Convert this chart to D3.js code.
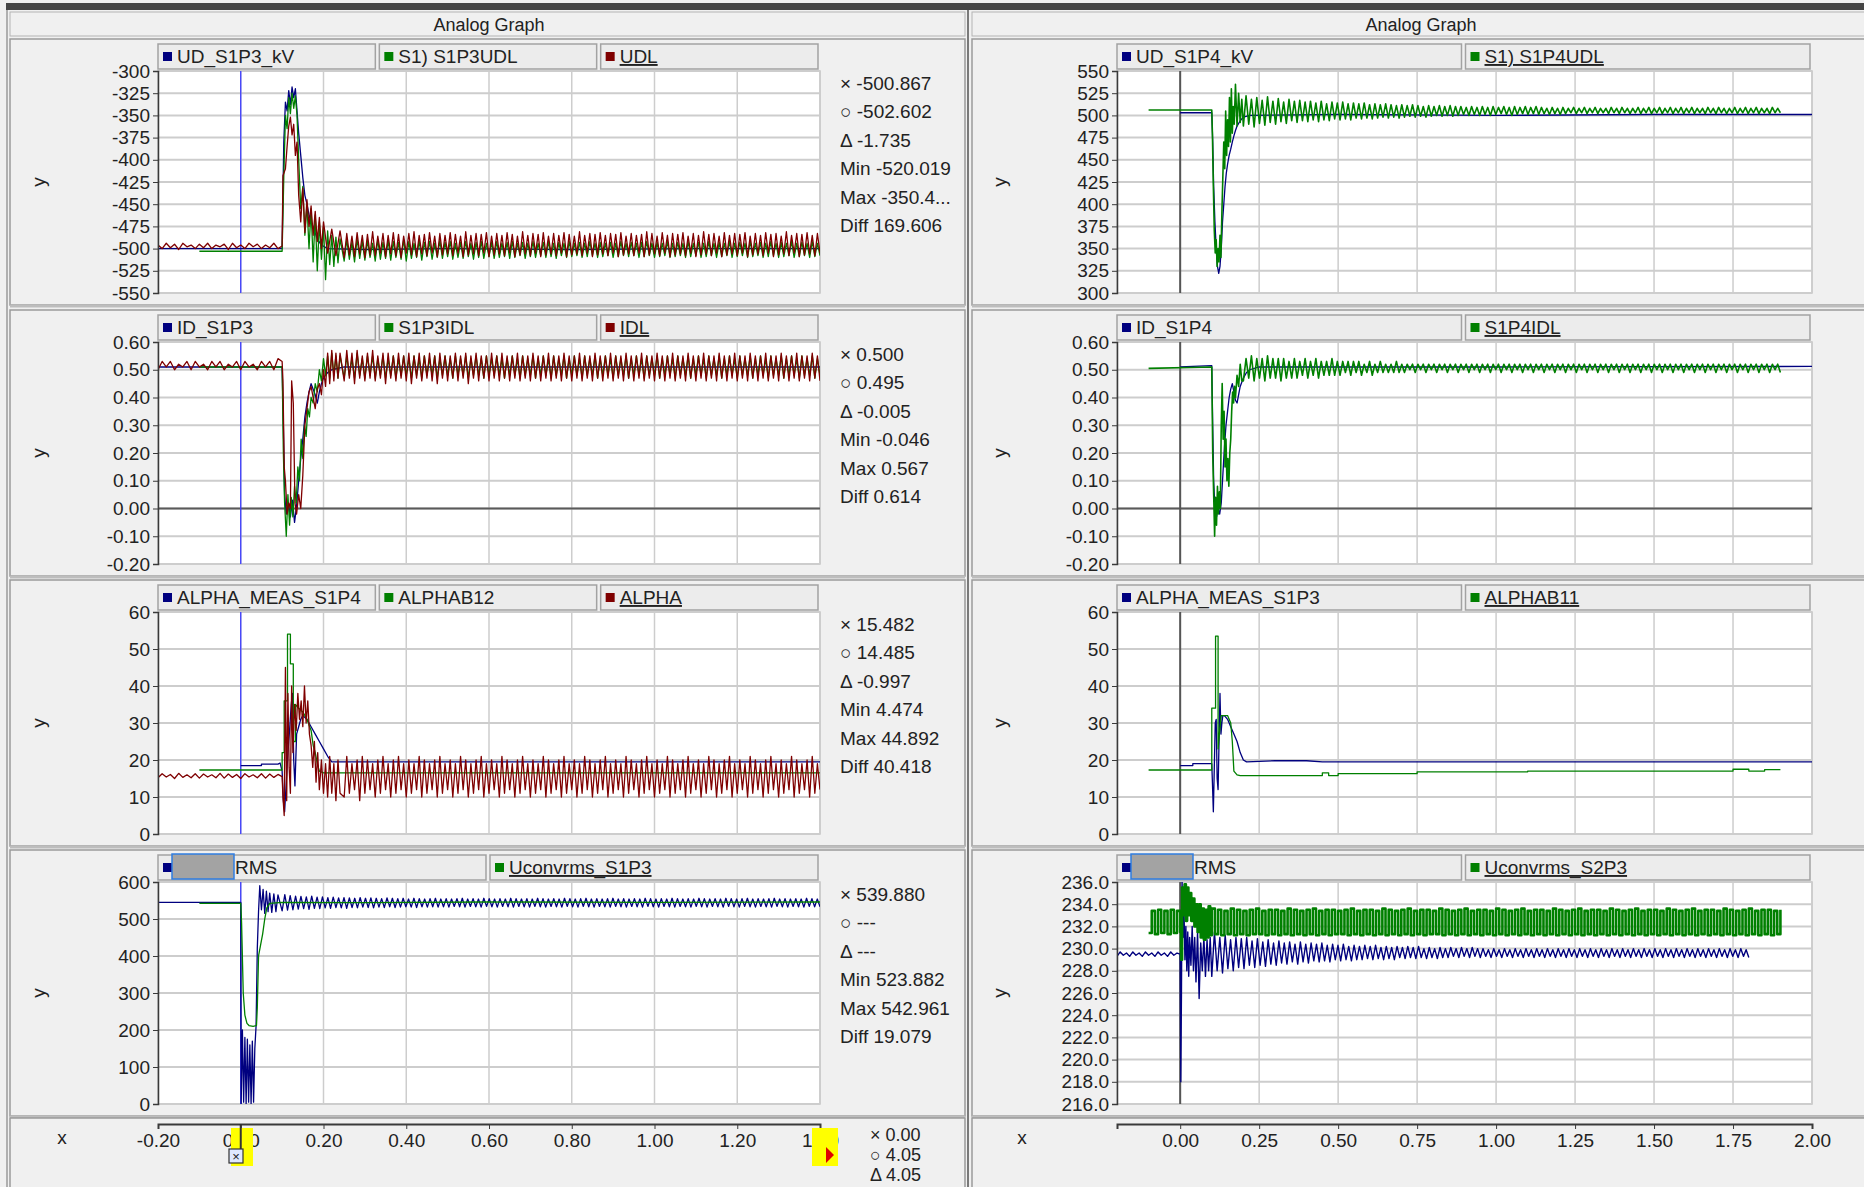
<!DOCTYPE html>
<html>
<head>
<meta charset="utf-8">
<script src="https://cdn.jsdelivr.net/npm/d3@7"></script>
<style>
  body { margin: 0; background: #f0f0f0; }
  svg text { font-family: "Liberation Sans", Arial, sans-serif; fill: #222; }
</style>
</head>
<body>
<svg id="chart" width="1864" height="1187"></svg>
<script>
// ---------- data ----------
const xTicksLeft = [-0.2, 0, 0.2, 0.4, 0.6, 0.8, 1.0, 1.2, 1.4];
const xTicksRight = [0, 0.25, 0.5, 0.75, 1.0, 1.25, 1.5, 1.75, 2.0];

const ticksUdL = [-550, -525, -500, -475, -450, -425, -400, -375, -350, -325, -300];
const ticksUdR = [300, 325, 350, 375, 400, 425, 450, 475, 500, 525, 550];
const ticksId = [-0.2, -0.1, 0, 0.1, 0.2, 0.3, 0.4, 0.5, 0.6];
const ticksAlpha = [0, 10, 20, 30, 40, 50, 60];
const ticksRmsL = [0, 100, 200, 300, 400, 500, 600];
const ticksRmsR = [216, 218, 220, 222, 224, 226, 228, 230, 232, 234, 236];

const legendUdL = ["UD_S1P3_kV", "S1) S1P3UDL", "UDL"];
const legendIdL = ["ID_S1P3", "S1P3IDL", "IDL"];
const legendAlphaL = ["ALPHA_MEAS_S1P4", "ALPHAB12", "ALPHA"];
const legendRmsL = ["RMS", "Uconvrms_S1P3"];
const legendUdR = ["UD_S1P4_kV", "S1) S1P4UDL"];
const legendIdR = ["ID_S1P4", "S1P4IDL"];
const legendAlphaR = ["ALPHA_MEAS_S1P3", "ALPHAB11"];
const legendRmsR = ["RMS", "Uconvrms_S2P3"];

const statsUd = ["-500.867", "-502.602", "-1.735", "Min -520.019", "Max -350.4...", "Diff 169.606"];
const statsId = ["0.500", "0.495", "-0.005", "Min -0.046", "Max 0.567", "Diff 0.614"];
const statsAlpha = ["15.482", "14.485", "-0.997", "Min 4.474", "Max 44.892", "Diff 40.418"];
const statsRms = ["539.880", "---", "---", "Min 523.882", "Max 542.961", "Diff 19.079"];
const statsX = ["0.00", "4.05", "4.05"];

// series: pieces of [t, v] pairs or evenly spaced runs {t0, dt, v}
const udS1P3 = [[[-0.2,-500],[0.1,-500],[0.104,-380],[0.108,-335],[0.112,-345],[0.116,-322],[0.12,-338],[0.124,-318],[0.128,-330],[0.132,-320],[0.136,-345],[0.14,-370],[0.145,-395],[0.15,-420],[0.155,-440],[0.16,-450],[0.165,-462],[0.17,-470],[0.178,-480],[0.186,-490],[0.195,-496],[0.21,-500],[0.3,-501],[0.5,-500],[0.8,-501],[1.1,-500],[1.4,-500]]];

const s1p3Udl = [
  [[-0.1,-503],[0.1,-503],[0.104,-420],[0.108,-350],[0.112,-365],[0.116,-330],[0.12,-348],[0.124,-325],[0.128,-342],[0.132,-328],[0.136,-350],[0.14,-400],[0.145,-455],[0.15,-430],[0.155,-485],[0.16,-450],[0.165,-500],[0.17,-455],[0.175,-515],[0.18,-462],[0.185,-525],[0.19,-470],[0.195,-512],[0.2,-475],[0.205,-535],[0.21,-480],[0.215,-518],[0.22,-485],[0.225,-520],[0.23,-487],[0.235,-516],[0.24,-489]],
  {t0: 0.25, dt: 0.00625, v: [
    -514,-490,-512,-493,-515,-489,-511,-492,-513,-491,-510,-494,-514,-490,-512,-493,-511,-491,-513,-492,
    -510,-493,-512,-490,-514,-492,-511,-494,-510,-491,-513,-493,-509,-492,-512,-494,-510,-491,-511,-493,
    -509,-492,-512,-494,-510,-493,-511,-492,-509,-494,-512,-493,-510,-492,-511,-494,-509,-493,-511,-492,
    -510,-494,-509,-493,-511,-492,-510,-494,-508,-493,-511,-494,-509,-492,-510,-494,-508,-493,-510,-492,
    -509,-494,-511,-493,-508,-494,-510,-492,-509,-494,-508,-493,-510,-494,-509,-492,-508,-494,-510,-493,
    -509,-494,-508,-493,-510,-494,-509,-492,-508,-494,-509,-493,-508,-494,-510,-493,-509,-492,-508,-494,
    -510,-493,-509,-494,-508,-492,-510,-494,-509,-493,-508,-494,-510,-492,-509,-494,-508,-493,-510,-494,
    -509,-492,-508,-494,-510,-493,-509,-494,-508,-492,-510,-494,-509,-493,-508,-494,-510,-492,-509,-494,
    -508,-493,-510,-494,-509,-492,-508,-494,-510,-493,-509,-494,-508,-492,-510,-494,-509,-493,-508,-494,
    -510,-492,-509,-494,-508]}
];

const udl = [
  {t0: -0.2, dt: 0.01, v: [-496,-500,-494,-499,-495,-501,-494,-498,-496,-500,-495,-499,-494,-500,-496,-498,-495,-501,-494,-499,-496,-500,-494,-498,-495,-500,-496,-499,-494,-500]},
  [[0.1,-497],[0.102,-418],[0.108,-410],[0.112,-385],[0.116,-362],[0.12,-352],[0.124,-372],[0.128,-360],[0.132,-395],[0.136,-380],[0.14,-440],[0.145,-470],[0.15,-432],[0.155,-482],[0.16,-445],[0.165,-475],[0.17,-452],[0.175,-485],[0.18,-458],[0.185,-492],[0.19,-465],[0.195,-500],[0.2,-470],[0.21,-505],[0.22,-478],[0.23,-508],[0.24,-480]],
  {t0: 0.25, dt: 0.00625, v: [
    -510,-483,-507,-486,-509,-482,-506,-485,-510,-484,-507,-481,-508,-486,-505,-483,-509,-485,-506,-482,
    -508,-484,-510,-486,-505,-483,-507,-481,-509,-485,-506,-484,-508,-482,-505,-486,-509,-483,-507,-485,
    -506,-482,-508,-484,-505,-486,-509,-481,-507,-485,-506,-483,-508,-484,-505,-482,-509,-486,-507,-483,
    -506,-485,-508,-482,-505,-484,-509,-486,-507,-481,-506,-485,-508,-483,-505,-484,-509,-482,-507,-486,
    -506,-483,-508,-485,-505,-482,-509,-484,-507,-486,-506,-481,-508,-485,-505,-483,-509,-484,-507,-482,
    -506,-485,-508,-483,-505,-484,-509,-482,-507,-486,-506,-483,-508,-485,-505,-484,-509,-481,-507,-483,
    -506,-486,-508,-482,-505,-485,-509,-483,-507,-484,-506,-482,-508,-486,-505,-483,-509,-485,-507,-481,
    -506,-484,-508,-483,-505,-486,-509,-482,-507,-485,-506,-483,-508,-484,-505,-482,-509,-486,-507,-483,
    -506,-485,-508,-482,-505,-484,-509,-483,-507,-486,-506,-481,-508,-485,-505,-483,-509,-484,-507,-482,
    -506,-485,-508,-483,-505]}
];

const idS1P3 = [[[-0.2,0.51],[0.1,0.51],[0.103,0.3],[0.106,0.05],[0.11,-0.02],[0.115,0.02],[0.12,-0.03],[0.125,0.03],[0.13,-0.05],[0.135,0.01],[0.14,0.1],[0.145,0.18],[0.15,0.25],[0.155,0.33],[0.16,0.38],[0.165,0.42],[0.17,0.45],[0.175,0.43],[0.18,0.41],[0.185,0.38],[0.19,0.42],[0.195,0.45],[0.2,0.47],[0.21,0.49],[0.22,0.5],[0.25,0.51],[0.6,0.51],[1.4,0.51]]];

const s1p3Idl = [
  [[-0.1,0.51],[0.1,0.51],[0.103,0.2],[0.106,0.02],[0.11,-0.1],[0.114,0.05],[0.118,-0.06],[0.122,0.04],[0.126,-0.03],[0.13,0.08],[0.134,0.02],[0.138,0.15],[0.142,0.1],[0.146,0.25],[0.15,0.18],[0.154,0.3],[0.158,0.26],[0.162,0.36],[0.166,0.33],[0.17,0.4],[0.175,0.38],[0.18,0.45],[0.185,0.42],[0.19,0.5],[0.195,0.46],[0.2,0.54],[0.205,0.48],[0.21,0.55],[0.215,0.47],[0.22,0.56],[0.225,0.48],[0.23,0.55],[0.235,0.47],[0.24,0.55]],
  {t0: 0.25, dt: 0.00625, v: [
    0.47,0.55,0.48,0.54,0.47,0.56,0.48,0.54,0.47,0.55,0.48,0.55,0.47,0.54,0.48,0.55,0.47,0.54,0.48,0.55,
    0.47,0.54,0.48,0.55,0.48,0.54,0.47,0.55,0.48,0.54,0.47,0.55,0.48,0.54,0.48,0.55,0.47,0.54,0.48,0.55,
    0.48,0.54,0.47,0.55,0.48,0.54,0.48,0.55,0.47,0.54,0.48,0.55,0.48,0.54,0.47,0.55,0.48,0.54,0.48,0.55,
    0.48,0.54,0.47,0.54,0.48,0.55,0.48,0.54,0.47,0.55,0.48,0.54,0.48,0.55,0.47,0.54,0.48,0.55,0.48,0.54,
    0.47,0.55,0.48,0.54,0.48,0.55,0.47,0.54,0.48,0.55,0.48,0.54,0.47,0.55,0.48,0.54,0.48,0.55,0.47,0.54,
    0.48,0.55,0.48,0.54,0.47,0.55,0.48,0.54,0.48,0.55,0.47,0.54,0.48,0.55,0.48,0.54,0.47,0.55,0.48,0.54,
    0.48,0.55,0.47,0.54,0.48,0.55,0.48,0.54,0.47,0.55,0.48,0.54,0.48,0.55,0.47,0.54,0.48,0.55,0.48,0.54,
    0.47,0.55,0.48,0.54,0.48,0.55,0.47,0.54,0.48,0.55,0.48,0.54,0.47,0.55,0.48,0.54,0.48,0.55,0.47,0.54,
    0.48,0.55,0.48,0.54,0.47,0.55,0.48,0.54,0.48,0.55,0.47,0.54,0.48,0.55,0.48,0.54,0.47,0.55,0.48,0.54,
    0.48,0.55,0.47,0.54,0.48]}
];

const idl = [
  {t0: -0.2, dt: 0.01, v: [0.50,0.53,0.51,0.53,0.50,0.52,0.51,0.53,0.50,0.53,0.51,0.52,0.50,0.53,0.51,0.53,0.50,0.52,0.51,0.53,0.50,0.53,0.51,0.52,0.50,0.53,0.51,0.53,0.50,0.54]},
  [[0.1,0.53],[0.102,0.46],[0.105,0.15],[0.108,0.1],[0.112,-0.02],[0.116,0.02],[0.12,0.0],[0.123,0.46],[0.127,0.38],[0.131,0.02],[0.135,-0.02],[0.14,0.05],[0.145,0.0],[0.15,0.12],[0.155,0.3],[0.16,0.36],[0.165,0.42],[0.17,0.44],[0.175,0.4],[0.18,0.36],[0.185,0.43],[0.19,0.45],[0.195,0.41],[0.2,0.5],[0.205,0.44],[0.21,0.56],[0.215,0.45],[0.22,0.57],[0.225,0.46],[0.23,0.56],[0.235,0.47],[0.24,0.56]],
  {t0: 0.25, dt: 0.00625, v: [
    0.46,0.57,0.47,0.56,0.45,0.57,0.47,0.55,0.46,0.56,0.47,0.57,0.46,0.55,0.47,0.56,0.45,0.56,0.47,0.55,
    0.46,0.56,0.47,0.55,0.46,0.56,0.45,0.55,0.47,0.56,0.46,0.55,0.47,0.56,0.46,0.55,0.45,0.56,0.47,0.55,
    0.46,0.55,0.47,0.56,0.46,0.55,0.47,0.56,0.45,0.55,0.47,0.56,0.46,0.55,0.47,0.55,0.46,0.56,0.47,0.55,
    0.46,0.56,0.47,0.55,0.46,0.55,0.47,0.56,0.46,0.55,0.47,0.55,0.46,0.56,0.47,0.55,0.46,0.55,0.47,0.56,
    0.46,0.55,0.47,0.55,0.46,0.56,0.47,0.55,0.46,0.55,0.47,0.56,0.46,0.55,0.47,0.55,0.46,0.56,0.47,0.55,
    0.46,0.55,0.47,0.56,0.46,0.55,0.47,0.55,0.46,0.56,0.47,0.55,0.46,0.55,0.47,0.56,0.46,0.55,0.47,0.55,
    0.46,0.56,0.47,0.55,0.46,0.55,0.47,0.56,0.46,0.55,0.47,0.55,0.46,0.56,0.47,0.55,0.46,0.55,0.47,0.56,
    0.46,0.55,0.47,0.55,0.46,0.56,0.47,0.55,0.46,0.55,0.47,0.56,0.46,0.55,0.47,0.55,0.46,0.56,0.47,0.55,
    0.46,0.55,0.47,0.56,0.46,0.55,0.47,0.55,0.46,0.56,0.47,0.55,0.46,0.55,0.47,0.56,0.46,0.55,0.47,0.55,
    0.46,0.56,0.47,0.55,0.46]}
];

const alphaMeasS1P4 = [[[0.0,18.5],[0.05,18.5],[0.05,18.9],[0.09,18.9],[0.095,19.2],[0.1,17],[0.103,9],[0.106,6],[0.11,14],[0.114,22],[0.118,28],[0.122,35],[0.125,38],[0.128,20],[0.131,13],[0.135,27],[0.14,29],[0.145,31],[0.15,32],[0.155,31.5],[0.16,31],[0.17,29],[0.18,27],[0.19,25],[0.2,23],[0.21,21],[0.22,19.5],[0.3,19.5],[1.4,19.5]]];

const alphab12 = [[[-0.1,17.3],[0.1,17.3],[0.1,22],[0.105,22],[0.105,36],[0.113,36],[0.113,54],[0.12,54],[0.12,46],[0.127,46],[0.127,25],[0.132,25],[0.132,35],[0.14,34],[0.15,33],[0.16,31],[0.17,28],[0.175,24],[0.18,22],[0.185,19],[0.19,17],[0.2,16.5],[1.4,16.5]]];

const alpha = [
  {t0: -0.2, dt: 0.01, v: [15.2,16.3,15.4,16.1,15.0,16.4,15.3,16.0,15.2,16.3,15.1,16.2,15.4,16.0,15.2,16.4,15.1,16.2,15.3,16.1,15.0,16.3,15.4,16.0,15.2,16.3,15.1,16.2,15.3,16.1]},
  [[0.1,15.5],[0.102,10],[0.105,5],[0.108,45],[0.111,9],[0.114,38],[0.117,18],[0.12,11],[0.123,40],[0.126,22],[0.13,35],[0.134,28],[0.138,38],[0.142,31],[0.146,36],[0.15,29],[0.154,40],[0.158,30],[0.162,36],[0.166,27],[0.17,24],[0.174,18],[0.178,25],[0.182,14],[0.186,22],[0.19,12],[0.195,20],[0.2,11],[0.205,19],[0.21,10],[0.215,21],[0.22,11],[0.225,19],[0.23,9],[0.235,20],[0.24,11]],
  {t0: 0.25, dt: 0.00625, v: [
    10,21,11,19,12,20,9,21,11,20,12,19,10,20,11,21,12,19,10,20,
    11,21,12,19,10,20,11,19,12,21,10,20,11,19,12,20,10,21,11,19,
    12,20,10,19,11,21,12,20,10,19,11,20,12,21,10,19,11,20,12,19,
    10,21,11,20,12,19,10,20,11,21,12,19,10,20,11,19,12,21,10,20,
    11,19,12,20,10,21,11,19,12,20,10,19,11,21,12,20,10,19,11,20,
    12,21,10,19,11,20,12,19,10,21,11,20,12,19,10,20,11,21,12,19,
    10,20,11,19,12,21,10,20,11,19,12,20,10,21,11,19,12,20,10,19,
    11,21,12,20,10,19,11,20,12,21,10,19,11,20,12,19,10,21,11,20,
    12,19,10,20,11,21,12,19,10,20,11,19,12,21,10,20,11,19,12,20,
    10,21,11,19,12]}
];

const rmsLeft = [
  [[-0.2,545],[-0.002,545],[0.0,545],[0.001,0],[0.004,200],[0.007,5],[0.01,180],[0.013,0],[0.016,175],[0.019,5],[0.022,160],[0.025,0],[0.028,170],[0.031,5],[0.034,150],[0.037,210],[0.04,420],[0.043,520],[0.046,590],[0.05,525],[0.054,580],[0.058,515],[0.062,575],[0.066,520],[0.07,570],[0.075,518],[0.08,568],[0.085,520],[0.09,565]],
  {t0: 0.1, dt: 0.0065, v: [
    522,566,524,563,525,562,527,561,528,560,526,562,529,559,528,560,530,558,529,559,
    531,557,530,558,529,557,531,556,530,558,532,556,531,557,530,556,532,555,531,557,
    533,556,531,555,532,556,533,554,532,556,531,555,533,554,532,555,533,556,532,554,
    533,555,532,554,534,555,533,556,532,554,534,555,533,554,532,556,534,555,533,554,
    532,555,534,554,533,556,532,555,534,554,533,555,532,554,534,556,533,555,532,554,
    534,555,533,554,532,556,534,555,533,554,532,555,534,556,533,554,532,555,534,554,
    533,555,532,556,534,554,533,555,532,554,534,555,533,554,532,556,534,555,533,554,
    532,555,534,554,533,556,532,555,534,554,533,555,532,554,534,556,533,555,532,554,
    534,555,533,554,532,556,534,555,533,554,532,555,534,556,533,554,532,555,534,554,
    533,555,532,556,534,554,533,555,532,554,534,555,533,554,532,556,534,555,533,554,
    533]}
];

const uconvS1P3 = [[[-0.1,542],[0.0,542],[0.002,490],[0.006,300],[0.01,240],[0.015,218],[0.02,212],[0.03,210],[0.038,212],[0.04,260],[0.043,400],[0.048,430],[0.053,460],[0.058,500],[0.063,530],[0.07,542],[0.1,545],[0.3,544],[0.6,546],[1.0,545],[1.4,546]]];

const udS1P4 = [[[0.0,503],[0.1,503],[0.103,470],[0.106,420],[0.11,380],[0.114,350],[0.118,330],[0.122,322],[0.126,330],[0.13,350],[0.134,380],[0.138,400],[0.142,420],[0.146,435],[0.15,445],[0.155,455],[0.16,462],[0.165,470],[0.17,477],[0.175,483],[0.18,488],[0.19,494],[0.2,498],[0.22,500],[0.5,501],[1.0,500],[1.5,501],[2.0,501]]];

const s1p4Udl = [
  [[-0.1,506],[0.1,506],[0.102,480],[0.105,420],[0.108,370],[0.111,345],[0.114,360],[0.117,330],[0.12,350],[0.123,335],[0.126,365],[0.129,340],[0.132,390],[0.135,430],[0.138,470],[0.141,440],[0.144,505],[0.147,455],[0.15,495],[0.153,465],[0.156,520],[0.159,470],[0.162,530],[0.165,480],[0.168,510],[0.171,490],[0.175,535],[0.18,488],[0.185,525],[0.19,492],[0.195,518]],
  {t0: 0.2, dt: 0.0085, v: [
    488,522,490,518,487,520,491,517,489,521,492,516,490,519,493,515,491,518,494,516,
    492,517,494,515,493,516,495,514,493,516,495,513,494,515,496,514,495,515,496,513,
    495,514,497,513,496,514,497,512,496,513,497,512,498,513,497,512,498,511,497,512,
    498,511,499,512,498,511,499,510,498,511,499,510,500,511,499,510,500,511,499,510,
    500,510,501,509,500,510,501,509,500,510,501,509,500,510,501,509,502,510,501,509,
    500,510,501,509,502,510,501,509,502,510,501,509,502,508,501,509,502,508,501,509,
    502,508,503,509,502,508,503,509,502,508,503,509,502,508,503,508,502,509,503,508,
    502,509,503,508,502,508,503,509,502,508,503,509,502,508,503,509,502,508,503,509,
    502,508,503,509,502,508,503,509,502,508,503,508,502,509,503,508,502,509,503,508,
    502,508,503,509,502,508,503,509,502,508,503,509,502,508,503,508,502,509,503,508,
    503]}
];

const idS1P4 = [[[0.0,0.51],[0.1,0.515],[0.103,0.3],[0.106,0.1],[0.11,0.0],[0.115,-0.03],[0.12,0.0],[0.125,-0.02],[0.13,0.02],[0.135,0.12],[0.14,0.22],[0.145,0.3],[0.15,0.35],[0.155,0.4],[0.16,0.43],[0.165,0.45],[0.17,0.42],[0.175,0.39],[0.18,0.38],[0.185,0.41],[0.19,0.44],[0.2,0.47],[0.21,0.49],[0.22,0.5],[0.25,0.51],[1.0,0.51],[2.0,0.512]]];

const s1p4Idl = [
  [[-0.1,0.505],[0.1,0.51],[0.103,0.2],[0.106,0.05],[0.109,-0.1],[0.112,0.04],[0.115,-0.06],[0.118,0.08],[0.121,-0.02],[0.124,0.06],[0.127,0.0],[0.13,0.3],[0.133,0.45],[0.136,0.25],[0.139,0.35],[0.142,0.15],[0.145,0.25],[0.148,0.1],[0.151,0.18],[0.154,0.08],[0.157,0.2],[0.16,0.25],[0.163,0.35],[0.166,0.42],[0.169,0.38],[0.172,0.44],[0.175,0.4],[0.18,0.48],[0.185,0.44],[0.19,0.52],[0.195,0.46]],
  {t0: 0.2, dt: 0.0085, v: [
    0.46,0.54,0.47,0.55,0.46,0.54,0.47,0.54,0.46,0.55,0.47,0.54,0.47,0.54,0.46,0.54,0.47,0.53,0.47,0.54,
    0.47,0.53,0.48,0.54,0.47,0.53,0.48,0.54,0.47,0.53,0.48,0.53,0.48,0.54,0.48,0.53,0.48,0.53,0.49,0.53,
    0.48,0.53,0.49,0.53,0.48,0.52,0.49,0.53,0.48,0.52,0.49,0.53,0.49,0.52,0.49,0.52,0.49,0.53,0.49,0.52,
    0.49,0.52,0.50,0.52,0.49,0.52,0.50,0.52,0.49,0.52,0.50,0.52,0.49,0.52,0.50,0.52,0.49,0.52,0.50,0.52,
    0.49,0.52,0.50,0.52,0.49,0.52,0.50,0.52,0.49,0.52,0.50,0.52,0.49,0.52,0.50,0.52,0.49,0.52,0.50,0.52,
    0.49,0.52,0.50,0.52,0.49,0.52,0.50,0.52,0.49,0.52,0.50,0.52,0.49,0.52,0.50,0.52,0.49,0.52,0.50,0.52,
    0.49,0.52,0.50,0.52,0.49,0.52,0.50,0.52,0.49,0.52,0.50,0.52,0.49,0.52,0.50,0.52,0.49,0.52,0.50,0.52,
    0.49,0.52,0.50,0.52,0.49,0.52,0.50,0.52,0.49,0.52,0.50,0.52,0.49,0.52,0.50,0.52,0.49,0.52,0.50,0.52,
    0.49,0.52,0.50,0.52,0.49,0.52,0.50,0.52,0.49,0.52,0.50,0.52,0.49,0.52,0.50,0.52,0.49,0.52,0.50,0.52,
    0.49,0.52,0.50,0.52,0.49,0.52,0.50,0.52,0.49,0.52,0.50,0.52,0.49,0.52,0.50,0.52,0.49,0.52,0.50,0.52,
    0.49]}
];

const alphaMeasS1P3 = [[[0.0,18.5],[0.04,18.5],[0.04,19],[0.1,19],[0.102,14],[0.105,6],[0.108,18],[0.111,30],[0.114,31],[0.117,15],[0.12,12],[0.123,25],[0.126,38],[0.129,27],[0.132,30],[0.135,32],[0.14,32],[0.15,31],[0.16,29],[0.17,27],[0.18,25],[0.19,22],[0.2,20],[0.21,19.5],[0.3,19.8],[0.4,19.8],[0.45,19.5],[2.0,19.5]]];

const alphab11 = [[[-0.1,17.3],[0.1,17.3],[0.1,34],[0.112,34],[0.112,53.5],[0.12,53.5],[0.12,23],[0.125,28],[0.13,32],[0.15,32],[0.16,30],[0.165,25],[0.17,17],[0.18,16],[0.19,15.8],[0.45,15.8],[0.45,16.5],[0.47,16.5],[0.47,15.8],[0.5,15.8],[0.5,16.3],[0.75,16.3],[0.75,16.8],[1.1,16.8],[1.1,17],[1.75,17],[1.75,17.5],[1.8,17.5],[1.8,17],[1.85,17],[1.85,17.4],[1.9,17.4]]];

const rmsRight = [
  {t0: -0.2, dt: 0.01, v: [229.3,229.7,229.4,229.6,229.3,229.7,229.4,229.6,229.3,229.7,229.4,229.6,229.3,229.7,229.4,229.6,229.3,229.7,229.4,229.6]},
  [[0.0,229.5],[0.002,218],[0.004,226],[0.006,236],[0.009,231],[0.012,233.5],[0.015,229],[0.018,232],[0.021,228],[0.024,231.5],[0.027,227.5],[0.03,231],[0.034,228.5],[0.038,232],[0.042,228],[0.046,231],[0.05,227],[0.055,231.5],[0.06,225.5],[0.065,230.5],[0.07,228],[0.075,231],[0.08,227.5],[0.085,230.8],[0.09,228],[0.095,231]],
  {t0: 0.1, dt: 0.0085, v: [
    227.5,231.5,228,231,227.8,231.2,228.2,230.8,228,231,228.3,230.9,228.2,231,228.5,230.7,228.3,230.9,228.5,230.6,
    228.4,230.8,228.6,230.5,228.5,230.7,228.7,230.5,228.6,230.6,228.8,230.4,228.6,230.6,228.8,230.4,228.7,230.5,228.9,230.4,
    228.8,230.5,228.9,230.3,228.8,230.4,229,230.3,228.9,230.4,229,230.2,228.9,230.3,229,230.2,229,230.3,229.1,230.2,
    229,230.3,229.1,230.1,229,230.2,229.1,230.1,229,230.2,229.2,230.1,229.1,230.2,229.2,230.1,229.1,230.2,229.2,230,
    229.1,230.1,229.2,230,229.1,230.1,229.2,230,229.2,230.1,229.3,230,229.2,230.1,229.3,230,229.2,230.1,229.3,230,
    229.2,230,229.3,229.9,229.2,230,229.3,229.9,229.2,230,229.3,229.9,229.2,230,229.3,229.9,229.2,230,229.3,229.9,
    229.2,230,229.3,229.9,229.2,230,229.3,229.9,229.2,230,229.3,229.9,229.2,230,229.3,229.9,229.2,230,229.3,229.9,
    229.2,230,229.3,229.9,229.2,230,229.3,229.9,229.2,230,229.3,229.9,229.2,230,229.3,229.9,229.2,230,229.3,229.9,
    229.2,230,229.3,229.9,229.2,230,229.3,229.9,229.2,230,229.3,229.9,229.2,230,229.3,229.9,229.2,230,229.3,229.9,
    229.2,230,229.3,229.9,229.2,230,229.3,229.9,229.2,230,229.3,229.9,229.2,230,229.3,229.9,229.2,230,229.3,229.9,
    229.2]}
];

const uconvS2P3 = [
  {t0: -0.1, dt: 0.01, v: [231.4,233.4,231.3,233.5,231.4,233.4,231.3,233.5,231.4,233.4]},
  [[0.0,231.5],[0.003,229],[0.006,235.5],[0.01,233],[0.014,235.8],[0.018,232.5],[0.022,235.5],[0.026,233],[0.03,235],[0.035,232.5],[0.04,234.5],[0.045,232],[0.05,234],[0.055,231.5],[0.06,234],[0.065,231],[0.07,233.6],[0.075,230.8],[0.08,233.5],[0.085,231],[0.09,233.8],[0.095,231.2]],
  {t0: 0.1, dt: 0.01, v: [
    233.6,231.3,233.5,231.2,233.4,231.3,233.6,231.2,233.5,231.3,233.4,231.2,233.5,231.3,233.6,231.3,233.4,231.2,233.5,231.3,
    233.5,231.2,233.4,231.3,233.6,231.2,233.5,231.3,233.4,231.2,233.5,231.3,233.6,231.2,233.4,231.3,233.5,231.2,233.5,231.3,
    233.4,231.3,233.5,231.2,233.6,231.3,233.4,231.2,233.5,231.3,233.5,231.2,233.4,231.3,233.6,231.2,233.5,231.3,233.4,231.2,
    233.5,231.3,233.6,231.2,233.4,231.3,233.5,231.2,233.5,231.3,233.4,231.3,233.6,231.2,233.5,231.3,233.4,231.2,233.5,231.3,
    233.6,231.2,233.4,231.3,233.5,231.2,233.5,231.3,233.4,231.2,233.6,231.3,233.5,231.2,233.4,231.3,233.5,231.2,233.6,231.3,
    233.4,231.2,233.5,231.3,233.5,231.2,233.4,231.3,233.6,231.2,233.5,231.3,233.4,231.2,233.5,231.3,233.6,231.2,233.4,231.3,
    233.5,231.2,233.5,231.3,233.4,231.2,233.6,231.3,233.5,231.2,233.4,231.3,233.5,231.2,233.6,231.3,233.4,231.2,233.5,231.3,
    233.5,231.2,233.4,231.3,233.6,231.2,233.5,231.3,233.4,231.2,233.5,231.3,233.6,231.2,233.4,231.3,233.5,231.2,233.5,231.3,
    233.4,231.2,233.6,231.3,233.5,231.2,233.4,231.3,233.5,231.2,233.6,231.3,233.4,231.2,233.5,231.3,233.5,231.2,233.4,231.3,
    233.5]}
];

// ---------- layout ----------
const svg = d3.select("#chart");
const seriesColor = ["#00007f", "#008000", "#7f0000"];
const rowTop = [71, 342, 612, 882];
const plotH = 222;

const sides = [
  { x0: 158, x1: 820, fx0: 10, fx1: 965, domain: [-0.2, 1.4], title: 489, ylab: 45, cursor: "#3a3aff", cursorW: 1.3 },
  { x0: 1117, x1: 1812, fx0: 972, fx1: 1866, domain: [-0.2, 2.0], title: 1421, ylab: 1006, cursor: "#555", cursorW: 2 }
];

const fixed = n => d => d.toFixed(n);

const charts = [
  { side: 0, row: 0, yDomain: [-550, -300], ticks: ticksUdL, fmt: fixed(0), legend: legendUdL, series: [udS1P3, s1p3Udl, udl], stats: statsUd },
  { side: 0, row: 1, yDomain: [-0.2, 0.6], ticks: ticksId, fmt: fixed(2), legend: legendIdL, series: [idS1P3, s1p3Idl, idl], stats: statsId, zero: true },
  { side: 0, row: 2, yDomain: [0, 60], ticks: ticksAlpha, fmt: fixed(0), legend: legendAlphaL, series: [alphaMeasS1P4, alphab12, alpha], stats: statsAlpha },
  { side: 0, row: 3, yDomain: [0, 600], ticks: ticksRmsL, fmt: fixed(0), legend: legendRmsL, series: [rmsLeft, uconvS1P3], stats: statsRms, masked: true },
  { side: 1, row: 0, yDomain: [300, 550], ticks: ticksUdR, fmt: fixed(0), legend: legendUdR, series: [udS1P4, s1p4Udl], widths: [1.3, 1.6] },
  { side: 1, row: 1, yDomain: [-0.2, 0.6], ticks: ticksId, fmt: fixed(2), legend: legendIdR, series: [idS1P4, s1p4Idl], zero: true, widths: [1.3, 1.6] },
  { side: 1, row: 2, yDomain: [0, 60], ticks: ticksAlpha, fmt: fixed(0), legend: legendAlphaR, series: [alphaMeasS1P3, alphab11] },
  { side: 1, row: 3, yDomain: [216, 236], ticks: ticksRmsR, fmt: fixed(1), legend: legendRmsR, series: [rmsRight, uconvS2P3], masked: true, stepped: 1, widths: [1.4, 2.6] }
];

function expand(pieces) {
  const out = [];
  pieces.forEach(p => {
    if (Array.isArray(p)) p.forEach(d => out.push(d));
    else p.v.forEach((v, i) => out.push([p.t0 + i * p.dt, v]));
  });
  return out;
}

// background chrome
svg.append("rect").attr("width", 1864).attr("height", 1187).attr("fill", "#f0f0f0");
svg.append("rect").attr("x", 6).attr("y", 3).attr("width", 1858).attr("height", 7).attr("fill", "#454545");

sides.forEach(s => {
  svg.append("rect").attr("x", s.fx0).attr("y", 12).attr("width", s.fx1 - s.fx0).attr("height", 24)
    .attr("fill", "#f0f0f0").attr("stroke", "#b4b4b4");
  svg.append("text").attr("x", s.title).attr("y", 31).attr("text-anchor", "middle")
    .attr("font-size", 18).text("Analog Graph");
  for (let r = 0; r < 4; r++) {
    svg.append("rect").attr("x", s.fx0).attr("y", rowTop[r] - 32).attr("width", s.fx1 - s.fx0).attr("height", 266)
      .attr("fill", "#f0f0f0").attr("stroke", "#9a9a9a").attr("stroke-width", 1.5);
    svg.append("line").attr("x1", s.fx0).attr("x2", s.fx1).attr("y1", rowTop[r] + 235).attr("y2", rowTop[r] + 235)
      .attr("stroke", "#bdbdbd").attr("stroke-width", 3);
  }
  svg.append("rect").attr("x", s.fx0).attr("y", 1118).attr("width", s.fx1 - s.fx0).attr("height", 75)
    .attr("fill", "#f0f0f0").attr("stroke", "#9a9a9a").attr("stroke-width", 1.5);
});
svg.append("line").attr("x1", 968).attr("x2", 968).attr("y1", 10).attr("y2", 1187).attr("stroke", "#7a7a7a").attr("stroke-width", 2);
svg.append("line").attr("x1", 7).attr("x2", 7).attr("y1", 10).attr("y2", 1187).attr("stroke", "#9a9a9a").attr("stroke-width", 1.5);

charts.forEach((c, ci) => {
  const s = sides[c.side];
  const top = rowTop[c.row], bottom = top + plotH;
  const x = d3.scaleLinear().domain(s.domain).range([s.x0, s.x1]);
  const y = d3.scaleLinear().domain(c.yDomain).range([bottom, top]);
  const g = svg.append("g");

  g.append("rect").attr("x", s.x0).attr("y", top).attr("width", s.x1 - s.x0).attr("height", plotH)
    .attr("fill", "#fff").attr("stroke", "#c4c4c4").attr("stroke-width", 1.5);

  const xGrid = c.side === 0 ? xTicksLeft : xTicksRight;
  g.selectAll(".hg").data(c.ticks).join("line")
    .attr("x1", s.x0).attr("x2", s.x1).attr("y1", d => y(d)).attr("y2", d => y(d))
    .attr("stroke", "#cdcdcd").attr("stroke-width", 2);
  g.selectAll(".vg").data(xGrid).join("line")
    .attr("x1", d => x(d)).attr("x2", d => x(d)).attr("y1", top).attr("y2", bottom)
    .attr("stroke", "#cdcdcd").attr("stroke-width", 1.5);
  if (c.zero) {
    g.append("line").attr("x1", s.x0).attr("x2", s.x1).attr("y1", y(0)).attr("y2", y(0))
      .attr("stroke", "#5a5a5a").attr("stroke-width", 2);
  }
  g.append("line").attr("x1", x(0)).attr("x2", x(0)).attr("y1", top).attr("y2", bottom)
    .attr("stroke", s.cursor).attr("stroke-width", s.cursorW);

  const clipId = "clip" + ci;
  svg.append("clipPath").attr("id", clipId).append("rect")
    .attr("x", s.x0).attr("y", top).attr("width", s.x1 - s.x0).attr("height", plotH);
  const lines = g.append("g").attr("clip-path", `url(#${clipId})`);
  c.series.forEach((ser, i) => {
    const line = d3.line().x(d => x(d[0])).y(d => y(d[1]))
      .curve(c.stepped === i ? d3.curveStepAfter : d3.curveLinear);
    lines.append("path").datum(expand(ser)).attr("d", line)
      .attr("fill", "none").attr("stroke", seriesColor[i])
      .attr("stroke-width", c.widths ? c.widths[i] : 1.3)
      .attr("stroke-linejoin", "round");
  });

  // y axis
  const ax = g.append("g").attr("transform", `translate(${s.x0},0)`)
    .call(d3.axisLeft(y).tickValues(c.ticks).tickFormat(c.fmt).tickSize(5).tickPadding(3));
  ax.select(".domain").attr("stroke", "#3a3a3a").attr("stroke-width", 1.5);
  ax.selectAll(".tick line").attr("stroke", "#3a3a3a");
  ax.selectAll("text").attr("font-size", 19).attr("fill", "#222")
    .attr("font-family", '"Liberation Sans", Arial, sans-serif');

  g.append("text").attr("transform", `translate(${s.ylab},${top + 111}) rotate(-90)`)
    .attr("text-anchor", "middle").attr("font-size", 19).text("y");

  // legend boxes
  const n = c.legend.length;
  const lx0 = s.x0, lx1 = s.x1 - 2, gap = 4;
  const bw = (lx1 - lx0 - gap * (n - 1)) / n;
  c.legend.forEach((name, i) => {
    const bx = lx0 + i * (bw + gap), by = top - 27;
    g.append("rect").attr("x", bx).attr("y", by).attr("width", bw).attr("height", 25)
      .attr("fill", "#ececec").attr("stroke", "#a2a2a2").attr("stroke-width", 1.5);
    g.append("rect").attr("x", bx + 5).attr("y", by + 8).attr("width", 9).attr("height", 9)
      .attr("fill", seriesColor[i]);
    let tx = bx + 19;
    if (c.masked && i === 0) {
      g.append("rect").attr("x", bx + 14).attr("y", by - 1).attr("width", 62).attr("height", 25)
        .attr("fill", "#a3a3a3").attr("stroke", "#2f7de1").attr("stroke-width", 1.5);
      tx = bx + 77;
    }
    g.append("text").attr("x", tx).attr("y", by + 19).attr("font-size", 19)
      .attr("text-decoration", i === n - 1 ? "underline" : null).text(name);
  });

  // cursor statistics
  if (c.stats) {
    const sym = ["\u00d7 ", "\u25cb ", "\u0394 ", "", "", ""];
    c.stats.forEach((t, i) => {
      g.append("text").attr("x", 840).attr("y", top + 19 + i * 28.4).attr("font-size", 19).text(sym[i] + t);
    });
  }
});

// bottom x axes
sides.forEach((s, si) => {
  const x = d3.scaleLinear().domain(s.domain).range([s.x0, s.x1]);
  const ticks = si === 0 ? xTicksLeft : xTicksRight;
  const ax = svg.append("g").attr("transform", "translate(0,1124)")
    .call(d3.axisBottom(x).tickValues(ticks).tickFormat(fixed(2)).tickSize(5).tickPadding(5));
  ax.select(".domain").attr("stroke", "#3a3a3a").attr("stroke-width", 2);
  ax.selectAll(".tick line").attr("stroke", "#3a3a3a");
  ax.selectAll("text").attr("font-size", 19).attr("fill", "#222")
    .attr("font-family", '"Liberation Sans", Arial, sans-serif');
  svg.append("text").attr("x", si === 0 ? 62 : 1022).attr("y", 1144).attr("text-anchor", "middle")
    .attr("font-size", 19).text("x");
  if (si === 0) {
    // cursor handles
    svg.append("rect").attr("x", 231).attr("y", 1128).attr("width", 22).attr("height", 38).attr("fill", "#ffff00");
    svg.append("line").attr("x1", x(0)).attr("x2", x(0)).attr("y1", 1124).attr("y2", 1150)
      .attr("stroke", "#333").attr("stroke-width", 2);
    svg.append("rect").attr("x", 229).attr("y", 1149).attr("width", 14).attr("height", 14)
      .attr("fill", "#dfe8ff").attr("stroke", "#333").attr("stroke-width", 1.2);
    svg.append("text").attr("x", 236).attr("y", 1161).attr("text-anchor", "middle").attr("font-size", 13)
      .attr("fill", "#2040d0").text("\u00d7");
    svg.append("rect").attr("x", 812).attr("y", 1128).attr("width", 26).attr("height", 38).attr("fill", "#ffff00");
    svg.append("path").attr("d", "M826,1147 L834,1155 L826,1163 Z").attr("fill", "#e00000");
    const sym = ["\u00d7 ", "\u25cb ", "\u0394 "];
    statsX.forEach((t, i) => {
      svg.append("text").attr("x", 870).attr("y", 1141 + i * 20).attr("font-size", 18).text(sym[i] + t);
    });
  }
});
</script>
</body>
</html>
